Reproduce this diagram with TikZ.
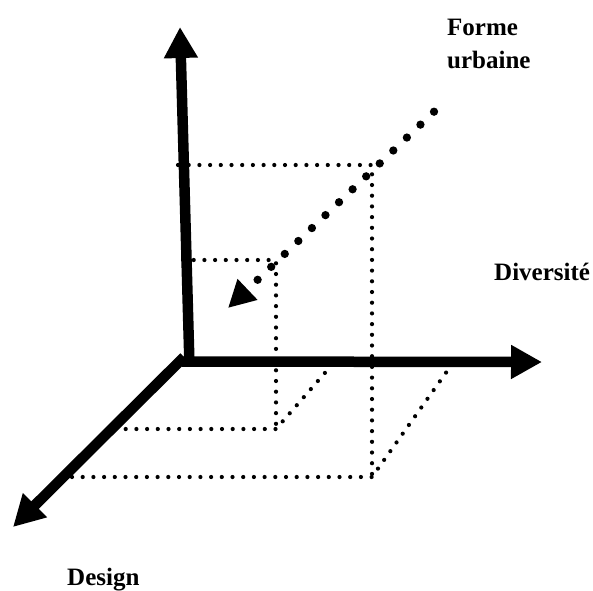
\documentclass[tikz,border=0pt]{standalone}
\usepackage{fontspec}
\setmainfont{Liberation Serif}
\usetikzlibrary{arrows.meta}

\tikzset{
  axis/.style={line width=10.5pt, -{Triangle[length=31pt,width=32pt]}},
  smalldots/.style={line width=4.2pt, line cap=round, dash pattern=on 0pt off 10.7pt},
  bigdots/.style={line width=8.3pt, line cap=round, dash pattern=on 0pt off 18.74pt, -{Triangle[length=27pt,width=27pt]}},
  axislabel/.style={font=\bfseries\fontsize{25}{30}\selectfont, anchor=base west, inner sep=0pt}
}

\begin{document}
\begin{tikzpicture}[x=1pt,y=-1pt]
        \useasboundingbox (0,0) rectangle (593,590);

        % corners of the dotted boxes
        \coordinate (topc) at (372,165);
        \coordinate (midc) at (276,260);
        \coordinate (lowc) at (276,429);
        \coordinate (basec) at (372,477);

        \draw[smalldots] (178,165) -- (topc) -- (basec);
        \draw[smalldots] (183,260) -- (midc) -- (lowc);
        \draw[smalldots] (115,429) -- (lowc) -- (332.7,364);
        \draw[smalldots] (72,477) -- (basec) -- (450,367);

        \draw[bigdots] (434,111.7) -- (228,308);

        % axes
        \draw[axis] (189.5,366) -- (180,27);
        \draw[axis] (182,361.5) -- (542,362);
        \draw[axis] (184,357) -- (13,527);

        \node[axislabel] (forme) at (447,35) {Forme};
        \node[axislabel] (urbaine) at (447,68) {urbaine};
        \node[axislabel] (diversite) at (494,280) {Diversité};
        \node[axislabel] (design) at (67,585) {Design};
\end{tikzpicture}
\end{document}
